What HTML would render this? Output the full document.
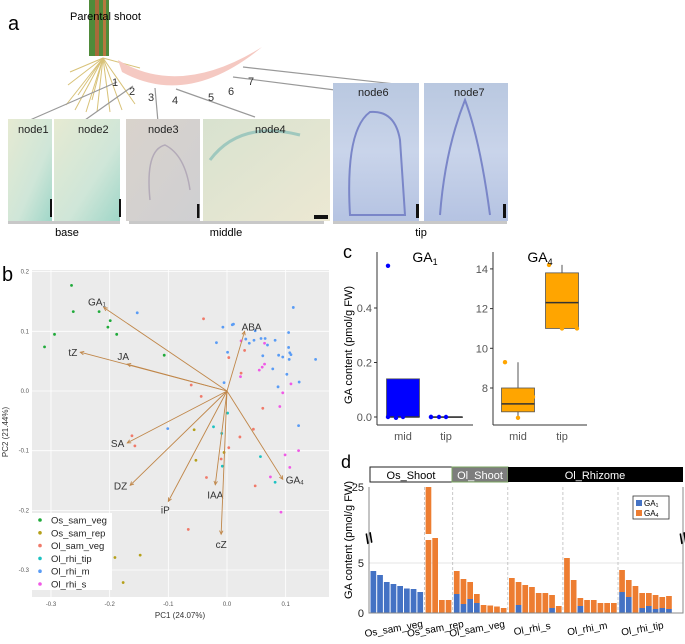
<!DOCTYPE html>
<html><head><meta charset="utf-8"><style>
body{margin:0;background:#fff;width:685px;height:639px;overflow:hidden;font-family:"Liberation Sans",sans-serif}
svg text{font-family:"Liberation Sans",sans-serif}
</style></head><body>
<svg id="fig" width="685" height="639" viewBox="0 0 685 639" xmlns="http://www.w3.org/2000/svg">
<defs>
<linearGradient id="gBase" x1="0" y1="0" x2="1" y2="1"><stop offset="0" stop-color="#e6ead2"/><stop offset="0.6" stop-color="#cfe6d8"/><stop offset="1" stop-color="#9fd6c8"/></linearGradient>
<linearGradient id="gMid3" x1="0" y1="0" x2="1" y2="1"><stop offset="0" stop-color="#d9d3cc"/><stop offset="1" stop-color="#cfcfd2"/></linearGradient>
<linearGradient id="gMid4" x1="0" y1="0" x2="1" y2="1"><stop offset="0" stop-color="#d8e2cf"/><stop offset="1" stop-color="#ece8d3"/></linearGradient>
<linearGradient id="gTip" x1="0" y1="0" x2="0" y2="1"><stop offset="0" stop-color="#b9c8e0"/><stop offset="0.5" stop-color="#c9d4ea"/><stop offset="1" stop-color="#b5c3e2"/></linearGradient>
</defs>

<!-- PANEL A -->
<g>
<text x="8" y="30" font-size="20">a</text>
<g>
<rect x="89" y="0" width="20" height="56" fill="#4f8b3a"/>
<rect x="95" y="0" width="4" height="56" fill="#a86a3a"/>
<rect x="103" y="0" width="3" height="56" fill="#b6793f"/>
<g stroke="#d8c278" stroke-width="1">
<line x1="103" y1="58" x2="66" y2="105"/><line x1="103" y1="58" x2="75" y2="110"/><line x1="103" y1="58" x2="86" y2="112"/>
<line x1="103" y1="58" x2="97" y2="112"/><line x1="103" y1="58" x2="110" y2="112"/><line x1="103" y1="58" x2="122" y2="110"/>
<line x1="103" y1="58" x2="135" y2="104"/><line x1="103" y1="58" x2="70" y2="72"/><line x1="103" y1="58" x2="68" y2="85"/>
<line x1="103" y1="58" x2="140" y2="68"/><line x1="103" y1="58" x2="78" y2="95"/><line x1="103" y1="58" x2="92" y2="100"/>
</g>
</g>
<text x="70" y="20" font-size="11">Parental shoot</text>
<path d="M118 60 Q180 98 262 47 Q188 108 122 72 Z" fill="#f5c9c2"/>
<g stroke="#999" stroke-width="1.2" fill="none">
<line x1="117" y1="82" x2="30" y2="120"/><line x1="133" y1="86" x2="85" y2="120"/><line x1="155" y1="88" x2="158" y2="122"/>
<line x1="176" y1="89" x2="255" y2="117"/><line x1="233" y1="77" x2="335" y2="90"/><line x1="243" y1="67" x2="395" y2="84"/>
</g>
<g font-size="11" fill="#333">
<text x="112" y="86">1</text><text x="129" y="95">2</text><text x="148" y="101">3</text><text x="172" y="104">4</text>
<text x="208" y="101">5</text><text x="228" y="95">6</text><text x="248" y="85">7</text>
</g>
<rect x="8" y="119" width="44" height="102" fill="url(#gBase)"/>
<rect x="54" y="119" width="66" height="102" fill="url(#gBase)"/>
<rect x="126" y="119" width="74" height="102" fill="url(#gMid3)"/>
<rect x="203" y="119" width="127" height="102" fill="url(#gMid4)"/>
<rect x="333" y="83" width="86" height="138" fill="url(#gTip)"/>
<rect x="424" y="83" width="84" height="138" fill="url(#gTip)"/>
<path d="M350 215 Q345 130 370 112 Q395 110 400 140 L405 215 Z" fill="none" stroke="#7a86c8" stroke-width="2"/>
<path d="M440 215 Q445 150 465 100 Q480 140 490 215" fill="none" stroke="#7a86c8" stroke-width="2"/>
<path d="M150 200 Q145 150 165 145 Q185 155 190 190" fill="none" stroke="#b3aab8" stroke-width="1.5"/>
<path d="M210 160 Q240 120 300 135" fill="none" stroke="#9fc8be" stroke-width="3"/>
<g font-size="11" fill="#222">
<text x="18" y="133">node1</text><text x="78" y="133">node2</text><text x="148" y="133">node3</text><text x="255" y="133">node4</text>
<text x="358" y="96">node6</text><text x="454" y="96">node7</text>
</g>
<g fill="#111">
<rect x="50" y="199" width="2" height="18"/><rect x="119" y="199" width="2" height="18"/><rect x="197" y="204" width="2.5" height="14"/>
<rect x="314" y="215" width="14" height="4"/><rect x="416" y="204" width="3" height="14"/><rect x="503" y="204" width="3" height="14"/>
</g>
<g fill="#c8c8c8">
<rect x="8" y="221" width="112" height="3"/><rect x="129" y="221" width="195" height="3"/><rect x="333" y="221" width="174" height="3"/>
</g>
<g font-size="11" text-anchor="middle">
<text x="67" y="236">base</text><text x="226" y="236">middle</text><text x="421" y="236">tip</text>
</g>
</g>

<!-- PANEL B -->
<g id="pb">
<text x="2" y="281" font-size="20">b</text>
<rect x="32" y="270" width="297" height="327" fill="#ebebeb"/>
<g id="pbGrid"></g><g id="pbPts"></g><g id="pbArrows"></g><g id="pbAxes"></g>
<text x="180" y="618" font-size="8" fill="#333" text-anchor="middle">PC1 (24.07%)</text>
<text x="8" y="432" font-size="8" fill="#333" text-anchor="middle" transform="rotate(-90 8 432)">PC2 (21.44%)</text>
<g>
<rect x="32" y="513" width="80" height="77" fill="#fff"/>
<g id="pbLeg"></g>
</g>
</g>

<!-- PANEL C -->
<g id="pc">
<text x="343" y="258" font-size="18">c</text>
<text x="352" y="345" font-size="11" text-anchor="middle" transform="rotate(-90 352 345)">GA content (pmol/g FW)</text>
<g id="pcPlots"></g>
</g>

<!-- PANEL D -->
<g id="pd">
<text x="341" y="468" font-size="18">d</text>
<rect x="370" y="467" width="82" height="15" fill="#fff" stroke="#222" stroke-width="1"/>
<text x="411" y="479" font-size="11" text-anchor="middle">Os_Shoot</text>
<rect x="452" y="467" width="56" height="15" fill="#7d7d7d" stroke="#7aa560" stroke-width="1"/>
<text x="480" y="479" font-size="11" fill="#fff" text-anchor="middle">Ol_Shoot</text>
<rect x="508" y="467" width="175" height="15" fill="#000"/>
<text x="595" y="479" font-size="11" fill="#fff" text-anchor="middle">Ol_Rhizome</text>
<text x="352" y="540" font-size="11" text-anchor="middle" transform="rotate(-90 352 540)">GA content (pmol/g FW)</text>
<g id="pdPlot"></g>
</g>
</svg>
<script>
const NS="http://www.w3.org/2000/svg";
function mk(p,t,a,txt){const e=document.createElementNS(NS,t);for(const k in a)e.setAttribute(k,a[k]);if(txt!==undefined)e.textContent=txt;p.appendChild(e);return e;}

// ===== Panel B data =====
const pcaGroups=["Os_sam_veg","Os_sam_rep","Ol_sam_veg","Ol_rhi_tip","Ol_rhi_m","Ol_rhi_s"];
const pcaColors=["#1faa3a","#b5a01a","#f07a6a","#1cc2c2","#5a9cf5","#f05ae6"];
const osSamVegX=[-0.265,-0.262,-0.218,-0.199,-0.203,-0.188,-0.294,-0.311,-0.107];
const osSamVegY=[0.177,0.133,0.133,0.118,0.107,0.095,0.095,0.074,0.060];
const osSamRepX=[-0.056,-0.053,-0.005,-0.191,-0.148,-0.177];
const osSamRepY=[-0.065,-0.116,-0.103,-0.279,-0.275,-0.321];
const olSamVegX=[-0.040,0.003,0.030,0.024,-0.061,-0.044,-0.162,-0.157,0.022,0.003,-0.010,0.061,0.045,-0.035,0.048,-0.066];
const olSamVegY=[0.121,0.056,0.068,0.030,0.010,-0.009,-0.075,-0.092,-0.077,-0.095,-0.114,-0.029,-0.064,-0.145,-0.159,-0.232];
const olRhiTipX=[0.001,-0.023,-0.009,-0.008,0.057,0.082];
const olRhiTipY=[-0.037,-0.060,-0.071,-0.126,-0.110,-0.153];
const olRhiMX=[-0.153,-0.007,0.009,0.011,0.048,-0.018,0.001,0.032,0.038,0.046,0.058,0.065,0.082,0.069,0.061,0.088,0.095,0.105,0.105,0.107,0.109,0.106,0.113,0.151,0.078,0.102,0.123,0.087,-0.005,-0.101,0.122];
const olRhiMY=[0.131,0.107,0.111,0.112,0.101,0.081,0.065,0.087,0.080,0.085,0.088,0.088,0.085,0.077,0.059,0.060,0.057,0.098,0.073,0.064,0.061,0.053,0.140,0.053,0.037,0.028,0.015,0.007,0.014,-0.063,-0.058];
const olRhiSX=[0.024,0.064,0.064,0.060,0.055,0.023,0.109,0.095,0.090,0.099,0.122,0.107,0.074,0.092];
const olRhiSY=[0.084,0.080,0.045,0.040,0.035,0.024,0.012,-0.003,-0.026,-0.107,-0.100,-0.128,-0.144,-0.203];
const loadingNames=["GA1","tZ","JA","ABA","SA","DZ","iP","IAA","cZ","GA4"];
const loadingX=[-0.21,-0.25,-0.17,0.03,-0.17,-0.165,-0.10,-0.02,-0.01,0.095];
const loadingY=[0.14,0.065,0.045,0.10,-0.087,-0.158,-0.185,-0.157,-0.24,-0.148];
const pcaXTicks=[-0.3,-0.2,-0.1,0.0,0.1];
const pcaYTicks=[0.2,0.1,0.0,-0.1,-0.2,-0.3];

const bx=v=>227+v*586.7, by=v=>391-v*596.7;
(function(){
 const grid=document.getElementById('pbGrid'), ax=document.getElementById('pbAxes');
 pcaXTicks.forEach(t=>{const l=mk(grid,'line',{x1:bx(t),x2:bx(t),y1:270,y2:597,stroke:'#fff','stroke-width':0.8});
  
  const tx=mk(ax,'text',{x:bx(t),y:606,'font-size':6,fill:'#555','text-anchor':'middle'},t.toFixed(1));
  });
 pcaYTicks.forEach(t=>{const l=mk(grid,'line',{x1:32,x2:329,y1:by(t),y2:by(t),stroke:'#fff','stroke-width':0.8});
  
  const tx=mk(ax,'text',{x:29,y:by(t)+2,'font-size':6,fill:'#555','text-anchor':'end'},t.toFixed(1));
  });
 const sets=[[osSamVegX,osSamVegY],[osSamRepX,osSamRepY],[olSamVegX,olSamVegY],[olRhiTipX,olRhiTipY],[olRhiMX,olRhiMY],[olRhiSX,olRhiSY]];
 const pg=document.getElementById('pbPts');
 sets.forEach((s,gi)=>s[0].forEach((x,i)=>{const c=mk(pg,'circle',{cx:bx(x),cy:by(s[1][i]),r:1.4,fill:pcaColors[gi]});
  }));
 const ag=document.getElementById('pbArrows');
 loadingNames.forEach((n,i)=>{const x2=bx(loadingX[i]),y2=by(loadingY[i]),x1=bx(0),y1=by(0);
  const l=mk(ag,'line',{x1,y1,x2,y2,stroke:'#c0874a','stroke-width':0.9});
  
  const a=Math.atan2(y2-y1,x2-x1),h=4;
  const p=mk(ag,'polyline',{points:`${x2-h*Math.cos(a-0.45)},${y2-h*Math.sin(a-0.45)} ${x2},${y2} ${x2-h*Math.cos(a+0.45)},${y2-h*Math.sin(a+0.45)}`,fill:'none',stroke:'#c0874a','stroke-width':0.9});
  
  let dx=-3,dy=4,anc='end';
  if(n==='ABA'){dx=-3;dy=-1;anc='start';} if(n==='GA4'){dx=3;dy=4;anc='start';}
  if(n==='IAA'||n==='cZ'){dx=0;dy=14;anc='middle';} if(n==='iP'){dx=-3;dy=12;anc='middle';}
  if(n==='GA1'){dx=2;dy=-2;anc='end';} if(n==='JA'){dx=-4;dy=-4;anc='middle';}
  const lab=n.startsWith('GA')?'GA':n;
  const t=mk(ag,'text',{x:x2+dx,y:y2+dy,'font-size':10,fill:'#333','text-anchor':anc},lab);
  if(n.startsWith('GA')){mk(t,'tspan',{'font-size':6,dy:1},n.slice(2));}
  });
 const lg=document.getElementById('pbLeg');
 pcaGroups.forEach((g,i)=>{const y=520+i*12.8;
  const c=mk(lg,'circle',{cx:40,cy:y,r:1.8,fill:pcaColors[i]});
  const t=mk(lg,'text',{x:51,y:y+3.5,'font-size':9.5,fill:'#222'},g);});
})();

// ===== Panel C data =====
const cGroups=["mid","tip"];
const ga1Box=[[0,0,0,0.14,0.14],[0,0,0,0,0]]; // min,q1,med,q3,max
const ga1Pts=[[0.555,0,-0.003,0],[0,0,0,0]];
const ga1Ticks=[0.0,0.2,0.4];
const ga4Box=[[6.5,6.8,7.2,8.0,9.3],[11.0,11.0,12.3,13.8,14.2]];
const ga4Pts=[[9.3,6.5,7.55],[14.2,11.0,11.0]];
const ga4Ticks=[8,10,12,14];
(function(){
 const g=document.getElementById('pcPlots');
 function plot(x0,x1,yb,ymap,box,pts,ticks,color,title,sub,xc,bw,jit,dec){
  const ya=mk(g,'line',{x1:x0,x2:x0,y1:252,y2:yb,stroke:'#333','stroke-width':1});
  const xa=mk(g,'line',{x1:x0,x2:x1,y1:yb,y2:yb,stroke:'#333','stroke-width':1});
  ticks.forEach(t=>{mk(g,'line',{x1:x0-3,x2:x0,y1:ymap(t),y2:ymap(t),stroke:'#333'});
   const tx=mk(g,'text',{x:x0-5,y:ymap(t)+4,'font-size':11,fill:'#555','text-anchor':'end'},t.toFixed(dec));
   });
  cGroups.forEach((c,i)=>{const cx=xc[i],b=box[i];
   const t=mk(g,'text',{x:cx,y:yb+15,'font-size':11,fill:'#555','text-anchor':'middle'},c);
   
   const w=mk(g,'line',{x1:cx,x2:cx,y1:ymap(b[0]),y2:ymap(b[4]),stroke:'#555'});
   const r=mk(g,'rect',{x:cx-bw/2,y:ymap(b[3]),width:bw,height:Math.max(0.5,ymap(b[1])-ymap(b[3])),fill:color,stroke:'#555','stroke-width':0.8});
   
   const m=mk(g,'line',{x1:cx-bw/2,x2:cx+bw/2,y1:ymap(b[2]),y2:ymap(b[2]),stroke:'#333','stroke-width':1.5});
   pts[i].forEach((v,j)=>{const p=mk(g,'circle',{cx:cx+jit[j%jit.length],cy:ymap(v),r:2.2,fill:color});});
  });
  const tt=mk(g,'text',{x:(x0+x1)/2,y:262,'font-size':14,'text-anchor':'middle'},title);
  mk(tt,'tspan',{'font-size':9,dy:3},sub);
  
 }
 plot(377,473,425,v=>417-v*272.5,ga1Box,ga1Pts,ga1Ticks,'#0000ff','GA','1',[403,446],33,[-15,-15,-7,0,6,15],1);
 plot(493,587,425,v=>388-(v-8)*19.85,ga4Box,ga4Pts,ga4Ticks,'#ffa500','GA','4',[518,562],33,[-13,0,15],0);
})();

// ===== Panel D data =====
const dGroups=["Os_sam_veg","Os_sam_rep","Ol_sam_veg","Ol_rhi_s","Ol_rhi_m","Ol_rhi_tip"];
const dGA1=[[4.2,3.8,3.1,2.9,2.7,2.45,2.4,2.1],[0,0,0,0],[1.9,0.9,1.4,1.0,0,0,0,0],[0,0.8,0,0,0,0,0.5,0],[0,0,0.7,0,0,0,0,0],[2.1,1.6,0,0.5,0.7,0.4,0.5,0.4]];
const dGA4=[[0,0,0,0,0,0,0,0],[25,7.5,1.3,1.3],[2.3,2.5,1.7,0.9,0.8,0.75,0.65,0.5],[3.5,2.3,2.8,2.6,2.0,2.0,1.3,0.7],[5.5,3.3,0.8,1.3,1.3,1.0,1.0,1.0],[2.2,1.7,2.7,1.5,1.3,1.4,1.1,1.3]];
const dTicks=[0,5,25];
(function(){
 const g=document.getElementById('pdPlot');
 const y0=613, brk=7.6, yBrkTop=534;
 const ym=v=>v<=brk?y0-v*10:yBrkTop-(v-brk)*(47/(25-brk));
 const gl=mk(g,'line',{x1:369,x2:683,y1:ym(5),y2:ym(5),stroke:'#ddd','stroke-width':0.8});
 const pitch=6.7, gap=1;
 const seps=mk(g,'g',{});
 let x=370;
 dGroups.forEach((grp,gi)=>{
  if(gi>0){const sep=mk(seps,'line',{x1:x-0.7,x2:x-0.7,y1:487,y2:613,stroke:'#bbb','stroke-dasharray':'3,2','stroke-width':0.8});}
  const sx=x;
  dGA1[gi].forEach((a,i)=>{const b=dGA4[gi][i],bxp=x+i*pitch+0.5,w=pitch-gap;
   const r1=mk(g,'rect',{x:bxp,y:ym(a),width:w,height:y0-ym(a),fill:'#4472c4'});
   const tot=a+b;
   if(b>0){const r2=mk(g,'rect',{x:bxp,y:ym(tot),width:w,height:ym(a)-ym(tot),fill:'#ed7d31'});
    if(tot>brk){const gp=mk(g,'rect',{x:bxp-0.5,y:yBrkTop,width:w+1,height:6,fill:'#fff'});}}
  });
  x+=dGA1[gi].length*pitch+1.5;
  const lx=(sx+x)/2-4;
  const t=mk(g,'text',{x:lx,y:632,'font-size':10,'text-anchor':'middle',transform:`rotate(-10 ${lx} 628)`},grp);
  
 });
 const axs=mk(g,'polyline',{points:'369,487 369,613 683,613 683,487',fill:'none',stroke:'#888','stroke-width':1});
 dTicks.forEach(t=>{const tx=mk(g,'text',{x:364,y:(t===25?487:ym(t))+4,'font-size':11,'text-anchor':'end',fill:'#222'},String(t));
  });
 [369,683].forEach(xx=>{const b=mk(g,'text',{x:xx,y:543,'font-size':14,'font-weight':'bold','text-anchor':'middle',transform:`rotate(-20 ${xx} 538)`},'//');
  });
 const lg=mk(g,'g',{});
 mk(lg,'rect',{x:633,y:496,width:36,height:23,fill:'#fff',stroke:'#333','stroke-width':0.8});
 mk(lg,'rect',{x:636,y:500,width:6,height:6,fill:'#4472c4'});
 mk(lg,'rect',{x:636,y:510,width:6,height:6,fill:'#ed7d31'});
 const t1=mk(lg,'text',{x:644,y:506,'font-size':8},'GA');mk(t1,'tspan',{'font-size':5,dy:1},'1');
 const t2=mk(lg,'text',{x:644,y:516,'font-size':8},'GA');mk(t2,'tspan',{'font-size':5,dy:1},'4');
})();
</script>
</body></html>
